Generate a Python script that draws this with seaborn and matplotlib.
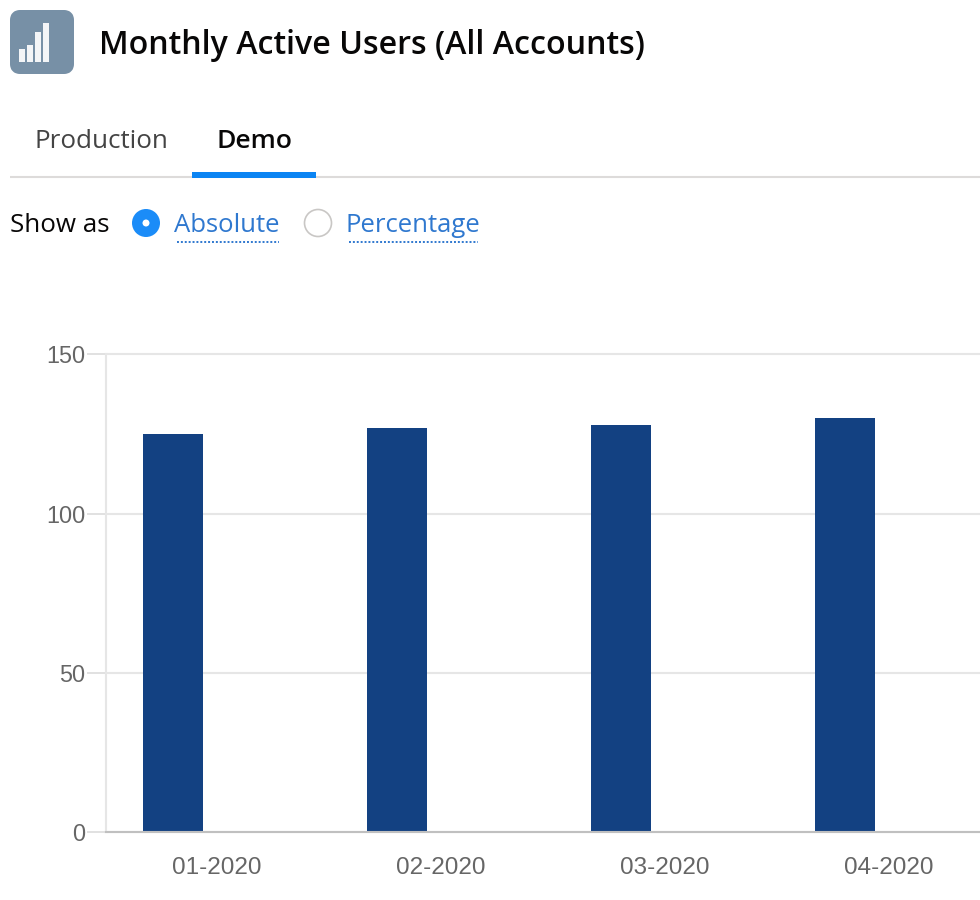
import matplotlib
matplotlib.use("Agg")
import matplotlib.pyplot as plt
from matplotlib.patches import Circle, FancyBboxPatch, Rectangle
from matplotlib.transforms import ScaledTranslation
import numpy as np
import pandas as pd
import seaborn as sns

# chart values
months = ["01-2020", "02-2020", "03-2020", "04-2020"]
demo_users = [125, 127, 128, 130]
empty_series = [np.nan, np.nan, np.nan, np.nan]  # second slot in each group is blank
y_ticks = [0, 50, 100, 150]

# header texts
title = "Monthly Active Users (All Accounts)"
tabs = ["Production", "Demo"]
show_as = "Show as"
radio_labels = ["Absolute", "Percentage"]

df = pd.DataFrame({
    "month": months * 2,
    "users": demo_users + empty_series,
    "series": ["Demo"] * 4 + ["Other"] * 4,
})

W, H = 980, 900
sns.set_theme(style="white")
plt.rcParams["font.family"] = ["Liberation Sans", "DejaVu Sans"]
fig = plt.figure(figsize=(W / 100, H / 100), dpi=100, facecolor="white")

# plot area, placed in pixels
ax = fig.add_axes([106 / W, 1 - 832.4 / H, (W - 106) / W, 478 / H])
sns.barplot(data=df, x="month", y="users", hue="series", ax=ax,
            palette={"Demo": "#134182", "Other": "#134182"},
            width=0.804, gap=1 / 3, legend=False, saturation=1, linewidth=0)
ax.set_xlim(-0.5, 3.402)
ax.set_ylim(0, 150)
ax.set_yticks(y_ticks)
ax.set_xlabel("")
ax.set_ylabel("")
ax.grid(axis="y", color="#e6e6e6", linewidth=1.5)
ax.set_axisbelow(True)
for line in ax.get_ygridlines():
    line.set_clip_on(False)
for side in ["top", "right"]:
    ax.spines[side].set_visible(False)
ax.spines["left"].set_color("#e6e6e6")
ax.spines["left"].set_linewidth(1.5)
ax.spines["bottom"].set_color("#c0c0c0")
ax.spines["bottom"].set_linewidth(1.5)
ax.tick_params(axis="y", length=14, width=1.2, color="#dcdcdc", labelsize=16.8,
               labelcolor="#666666", pad=1, left=True)
ax.tick_params(axis="x", length=0, labelsize=17.5, labelcolor="#666666", pad=17.5)
nudge = ScaledTranslation(-1 / 100, 0, fig.dpi_scale_trans)
for label in ax.get_xticklabels():
    label.set_transform(label.get_transform() + nudge)

# header drawn on an overlay in pixel coordinates
ui = fig.add_axes([0, 0, 1, 1], facecolor="none")
ui.set_xlim(0, W)
ui.set_ylim(H, 0)
ui.axis("off")

ui.add_patch(FancyBboxPatch((15, 15), 54, 54, boxstyle="round,pad=0,rounding_size=5",
                            fc="#7790a6", ec="#7790a6", lw=5 * 0.72 * 2, joinstyle="round"))
for left, top in zip([18.7, 27, 35.3, 43], [49, 45, 32, 23.3]):
    ui.add_patch(Rectangle((left, top), 6, 61.7 - top, fc="white", alpha=0.92, ec="none"))

heading = ["Open Sans", "DejaVu Sans"]
ui.text(99, 42, title, fontsize=23.1, fontweight=600, family=heading, color="#080707", va="center_baseline")
ui.text(34, 138, tabs[0], fontsize=18.7, family=heading, color="#444444", va="center_baseline")
ui.text(216, 138, tabs[1], fontsize=19, fontweight=600, family=heading, color="#080707", va="center_baseline")

ui.plot([10, 980], [177, 177], color="#dddbda", lw=1.5, solid_capstyle="butt", zorder=1)
ui.add_patch(Rectangle((192, 172), 124, 6, fc="#0b84f3", ec="none", zorder=2))

ui.text(10, 222, show_as, fontsize=18.7, family=heading, color="#080707", va="center_baseline")
ui.add_patch(Circle((146, 223), 14, fc="#1b8cf8", ec="none"))
ui.add_patch(Circle((146, 223), 3.5, fc="white", ec="none"))
ui.add_patch(Circle((318, 223), 13.5, fc="white", ec="#c9c7c5", lw=1.2))

for x0, x1, text in zip([174, 345.5], [279, 478], radio_labels):
    ui.text(x0, 222, text, fontsize=18.5, family=heading, color="#2f78cf", va="center_baseline")
    ui.plot([x0 + 3, x1], [242, 242], color="#2f78cf", lw=1.4, linestyle=(0, (1, 1)))

fig.savefig("out.png", dpi=100)
